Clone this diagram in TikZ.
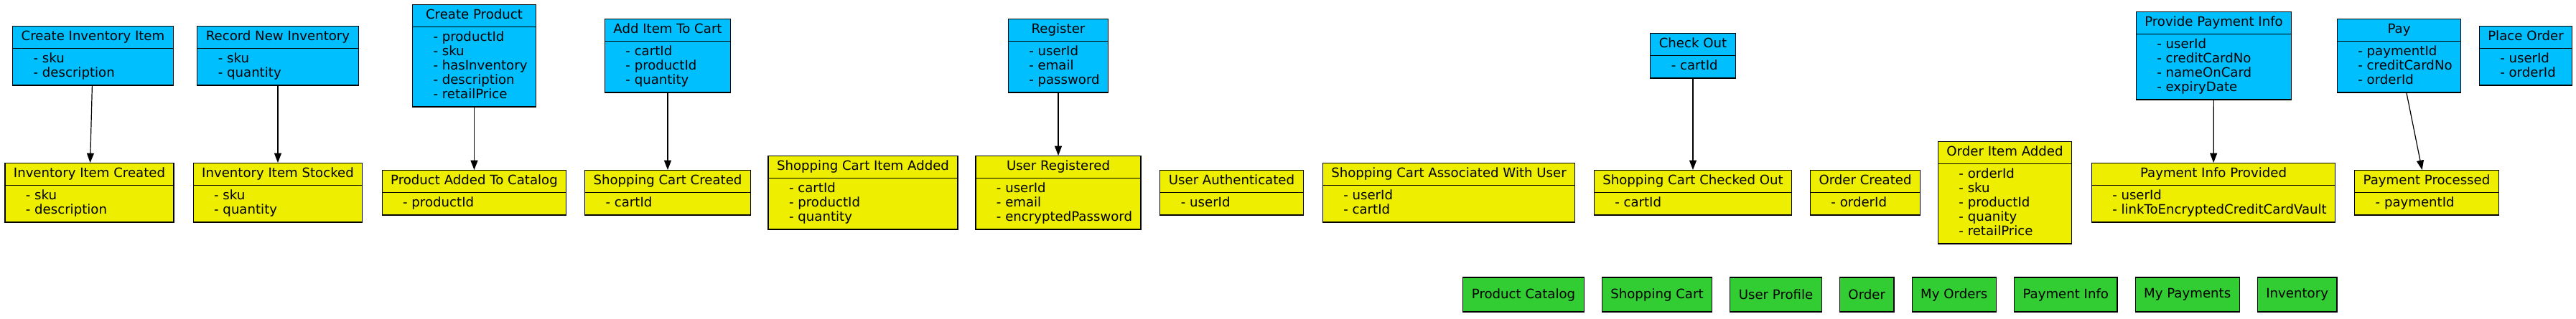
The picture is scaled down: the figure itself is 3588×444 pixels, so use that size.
\documentclass[tikz,border=0pt]{standalone}
\usepackage{fontspec}
\usepackage{tikz}
\usetikzlibrary{arrows.meta}
\usetikzlibrary{positioning}
\usetikzlibrary{shapes.multipart}

\newfontfamily\boxfamily{DejaVu Sans}
\newcommand{\boxfont}{\boxfamily\fontsize{13.6}{15}\selectfont}
\newcommand{\fieldlist}[1]{{\boxfont\begin{tabular}{@{\hspace*{12.75pt}}l@{}}#1\end{tabular}}}
\definecolor{cmdblue}{RGB}{0,191,255}
\definecolor{evtyellow}{RGB}{238,238,0}
\definecolor{aggrgreen}{RGB}{50,205,50}

\begin{document}
\begin{tikzpicture}[x=0.75pt,y=-0.75pt,
			box node/.style={rectangle split,rectangle split parts=2,
				rectangle split part align={center,left},draw=black,line width=0.9pt,
				inner xsep=9pt,inner ysep=3.75pt,anchor=north,font=\boxfont},
			command node/.style={box node,fill=cmdblue},
			event node/.style={box node,fill=evtyellow},
			aggregate node/.style={draw=black,line width=0.9pt,fill=aggrgreen,
				minimum height=36pt,inner xsep=9pt,font=\boxfont},
			>={Triangle[length=10pt,width=7.5pt]}]
			
			\useasboundingbox (0,0) rectangle (3588,444);
			
			% commands
			\node[command node] (CII) at (129.5,36) {\strut Create Inventory Item\nodepart{two}\fieldlist{- sku\\- description}};
			\node[command node] (RNI) at (387,36) {\strut Record New Inventory\nodepart{two}\fieldlist{- sku\\- quantity}};
			\node[command node] (CP) at (660.5,6) {\strut Create Product\nodepart{two}\fieldlist{- productId\\- sku\\- hasInventory\\- description\\- retailPrice}};
			\node[command node] (AIC) at (930,26) {\strut Add Item To Cart\nodepart{two}\fieldlist{- cartId\\- productId\\- quantity}};
			\node[command node] (REG) at (1474,26) {\strut Register\nodepart{two}\fieldlist{- userId\\- email\\- password}};
			\node[command node] (CO) at (2358,46) {\strut Check Out\nodepart{two}\fieldlist{- cartId}};
			\node[command node] (PPI) at (3083.5,16) {\strut Provide Payment Info\nodepart{two}\fieldlist{- userId\\- creditCardNo\\- nameOnCard\\- expiryDate}};
			\node[command node] (PAY) at (3341.5,26) {\strut Pay\nodepart{two}\fieldlist{- paymentId\\- creditCardNo\\- orderId}};
			\node[command node] (PO) at (3518,36) {\strut Place Order\nodepart{two}\fieldlist{- userId\\- orderId}};
			
			% events
			\node[event node] (IIC) at (124.5,227) {\strut Inventory Item Created\nodepart{two}\fieldlist{- sku\\- description}};
			\node[event node] (IIS) at (387,227) {\strut Inventory Item Stocked\nodepart{two}\fieldlist{- sku\\- quantity}};
			\node[event node] (PATC) at (660.5,237) {\strut Product Added To Catalog\nodepart{two}\fieldlist{- productId}};
			\node[event node] (SCC) at (930,237) {\strut Shopping Cart Created\nodepart{two}\fieldlist{- cartId}};
			\node[event node] (SCIA) at (1202,217) {\strut Shopping Cart Item Added\nodepart{two}\fieldlist{- cartId\\- productId\\- quantity}};
			\node[event node] (UR) at (1474,217) {\strut User Registered\nodepart{two}\fieldlist{- userId\\- email\\- encryptedPassword}};
			\node[event node] (UA) at (1715.5,237) {\strut User Authenticated\nodepart{two}\fieldlist{- userId}};
			\node[event node] (SCAU) at (2018,227) {\strut Shopping Cart Associated With User\nodepart{two}\fieldlist{- userId\\- cartId}};
			\node[event node] (SCCO) at (2358,237) {\strut Shopping Cart Checked Out\nodepart{two}\fieldlist{- cartId}};
			\node[event node] (OC) at (2598,237) {\strut Order Created\nodepart{two}\fieldlist{- orderId}};
			\node[event node] (OIA) at (2792.5,197) {\strut Order Item Added\nodepart{two}\fieldlist{- orderId\\- sku\\- productId\\- quanity\\- retailPrice}};
			\node[event node] (PIP) at (3083,227) {\strut Payment Info Provided\nodepart{two}\fieldlist{- userId\\- linkToEncryptedCreditCardVault}};
			\node[event node] (PP) at (3380,237) {\strut Payment Processed\nodepart{two}\fieldlist{- paymentId}};
			
			% aggregates
			\node[aggregate node] (PC) at (2122,411) {Product Catalog};
			\node[aggregate node] (SC) [right=18pt of PC] {Shopping Cart};
			\node[aggregate node] (UP) [right=18pt of SC] {User Profile};
			\node[aggregate node] (OR) [right=18pt of UP] {Order};
			\node[aggregate node] (MO) [right=18pt of OR] {My Orders};
			\node[aggregate node] (PI) [right=18pt of MO] {Payment Info};
			\node[aggregate node] (MP) [right=18pt of PI] {My Payments};
			\node[aggregate node] (INV) [right=18pt of MP] {Inventory};
			
			\path[->,draw=black,line width=0.9pt]
			(CII) edge (IIC)
			(RNI) edge (IIS)
			(CP) edge (PATC)
			(AIC) edge (SCC)
			(REG) edge (UR)
			(CO) edge (SCCO)
			(PPI) edge (PIP)
			(PAY) edge (PP);
			
		\end{tikzpicture}
\end{document}
